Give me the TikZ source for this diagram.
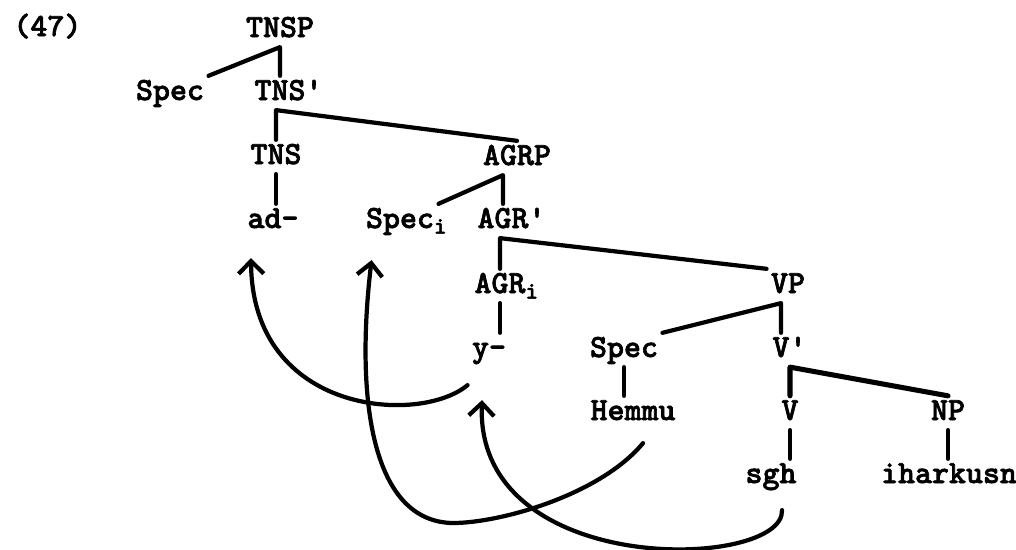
\documentclass[tikz,border=0pt]{standalone}
\usepackage{fontspec}
\usepackage{tikz}
\usetikzlibrary{arrows.meta,calc}

\newfontfamily\treefont{lmmonolt10-bold.otf}[FakeBold=2]
\newcommand{\idx}[1]{\rlap{\raisebox{-0.4ex}{\fontsize{17}{17}\selectfont #1}}}
\newcommand{\prm}{\rlap{\textquotesingle}}

\begin{document}
\begin{tikzpicture}[
  x=0.025cm, y=-0.025cm,           % one unit = one pixel, y downwards
  font=\treefont\fontsize{23}{27}\selectfont,
  cat/.style={anchor=base, inner sep=3pt, text height=14pt, text depth=4pt},
  branch/.style={line width=3pt, line cap=round, line join=round},
  move/.style={line width=3pt, line cap=round,
    -{Straight Barb[length=9pt,width=18pt]}},
]
\useasboundingbox (0,0) rectangle (1016,549);

% --- example number ---
\node[cat, anchor=base west] (ex) at (9,36) {(47)};

% --- TNS layer ---
\node[cat] (TNSP)   at (280,37)  {TNSP};
\node[cat] (SpecA)  at (170,100) {Spec};
\node[cat] (TNSbar) at (280,100) {TNS\prm};
\node[cat] (TNS)    at (276,164) {TNS};
\node[cat] (adm)    at (273,228) {ad-};

% --- AGR layer ---
\node[cat] (AGRP)   at (517,165) {AGRP};
\node[cat] (SpecI)  at (400,228) {Spec\idx{i}};
\node[cat] (AGRbar) at (503,228) {AGR\prm};
\node[cat] (AGRI)   at (500,293) {AGR\idx{i}};
\node[cat] (ym)     at (489,357) {y-};

% --- VP layer ---
\node[cat] (VP)     at (788,293) {VP};
\node[cat] (SpecB)  at (624,357) {Spec};
\node[cat] (Vbar)   at (781,357) {V\prm};
\node[cat] (Hemmu)  at (633,420) {Hemmu};
\node[cat] (V)      at (790,420) {V};
\node[cat] (NP)     at (948,420) {NP};
\node[cat] (sgh)    at (771,483) {sgh};
\node[cat] (ihark)  at (949,483) {iharkusn};

% --- branches ---
\draw[branch] (SpecA.north east) -- (TNSP.south) -- (TNSbar.north);
\draw[branch] (TNS.north) -- (TNS.north |- TNSbar.south) -- (AGRP.north);
\draw[branch] (TNS.south) -- (TNS.south |- adm.north);
\draw[branch] (SpecI.north east) -- (AGRbar.north |- AGRP.south) -- (AGRbar.north);
\draw[branch] (AGRI.north) -- (AGRI.north |- AGRbar.south) -- (VP.north west);
\draw[branch] (AGRI.south) -- (AGRI.south |- ym.north);
\draw[branch] (SpecB.north east) -- (Vbar.north |- VP.south) -- (Vbar.north);
\draw[branch] (SpecB.south) -- (SpecB.south |- Hemmu.north);
\draw[branch, line width=3.6pt] (V.north) -- (V.north |- Vbar.south) -- (NP.north);
\draw[branch] (V.south) -- (V.south |- sgh.north);
\draw[branch] (NP.south) -- (NP.south |- ihark.north);

% --- movement arrows ---
\draw[move] ($(ym.south west)+(0,18)$)
  .. controls (420,425) and (252,415) .. ($(adm.south west)+(8,20)$);
\draw[move] ($(Hemmu.south)+(10,13)$)
  .. controls (600,495) and (500,523) .. (453,523)
  .. controls (372,522) and (355,400) .. ($(SpecI.south west)+(10,22)$);
\draw[move] ($(sgh.south)+(11,17)$)
  .. controls (785,570) and (475,580) .. ($(ym.south)+(-7,33)$);

\end{tikzpicture}
\end{document}
